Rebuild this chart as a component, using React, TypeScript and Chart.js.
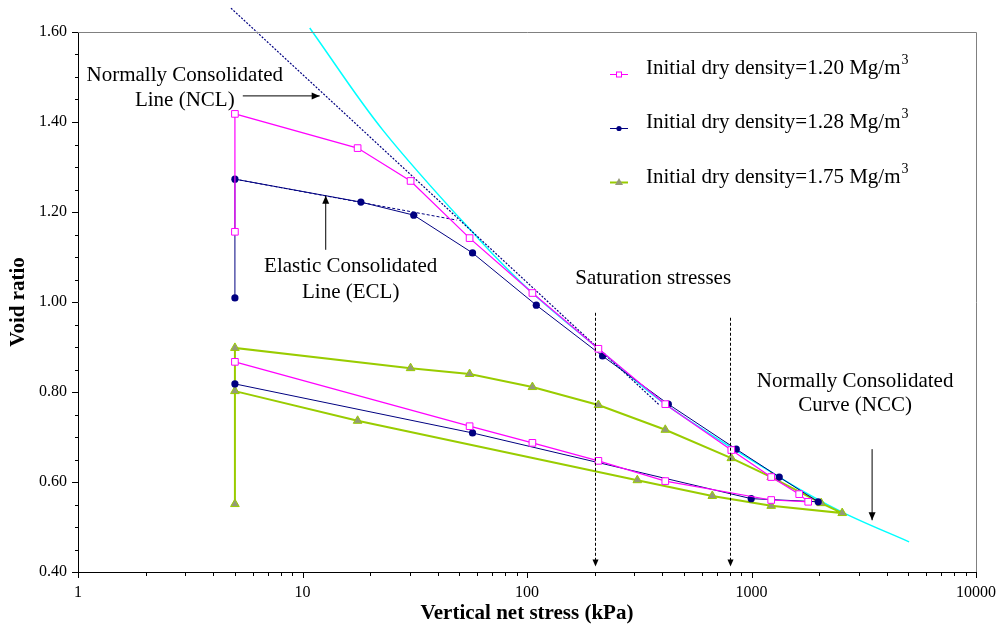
import React, { useEffect, useRef } from "react";
import { Chart, registerables } from "chart.js";

Chart.register(...registerables);

const FONT = "'Liberation Serif', 'Times New Roman', serif";

// ---- data ----
const pinkX = [5, 5, 17.6, 30.3, 55.5, 105.7, 208, 413, 813, 1224, 1631, 1789, 1224, 413, 208, 105.7, 55.5, 5];
const pinkY = [1.156, 1.418, 1.342, 1.269, 1.142, 1.02, 0.896, 0.773, 0.671, 0.611, 0.573, 0.556, 0.56, 0.602, 0.647, 0.687, 0.724, 0.867];

const blueX = [5, 5, 18.2, 31.3, 57.2, 110, 217, 426, 855, 1329, 1982, 997, 57.2, 5];
const blueY = [1.009, 1.273, 1.222, 1.193, 1.109, 0.993, 0.88, 0.773, 0.673, 0.611, 0.556, 0.563, 0.709, 0.818];

const greenX = [5, 5, 30.3, 55.5, 105.7, 208, 413, 813, 1224, 2043, 2535, 1224, 669, 310, 17.6, 5];
const greenY = [0.551, 0.898, 0.853, 0.84, 0.811, 0.771, 0.716, 0.653, 0.611, 0.553, 0.531, 0.547, 0.569, 0.604, 0.736, 0.802];

const nclX = [4.8, 389];
const nclY = [1.653, 0.771];

const eclX = [5, 48.6];
const eclY = [1.273, 1.182];

const nccX = [10.77, 22.8, 61.5, 105.7, 208, 413, 1329, 2535, 5035];
const nccY = [1.609, 1.382, 1.138, 1.02, 0.896, 0.773, 0.611, 0.533, 0.467];

const seriesLabels = [
  "Initial dry density=1.20 Mg/m",
  "Initial dry density=1.28 Mg/m",
  "Initial dry density=1.75 Mg/m",
];

const xMajorTicks = [1, 10, 100, 1000, 10000];
const yMajorTicks = [0.4, 0.6, 0.8, 1.0, 1.2, 1.4, 1.6];
const yMinorStep = 0.05;

// saturation stress markers: x value, top y, bottom y
const satX = [200, 800];
const satTopY = [0.976, 0.965];
const satBottomY = 0.412;

// annotations (data coordinates)
const notes = [
  { x: 2.99, y: 1.504, text: "Normally Consolidated" },
  { x: 2.99, y: 1.447, text: "Line (NCL)" },
  { x: 16.4, y: 1.078, text: "Elastic Consolidated" },
  { x: 16.4, y: 1.022, text: "Line (ECL)" },
  { x: 365, y: 1.053, text: "Saturation stresses" },
  { x: 2894, y: 0.824, text: "Normally Consolidated" },
  { x: 2894, y: 0.769, text: "Curve (NCC)" },
];
// arrows: from -> to (data coordinates)
const arrows = [
  { x1: 5.42, y1: 1.458, x2: 11.93, y2: 1.458 },
  { x1: 12.69, y1: 1.116, x2: 12.69, y2: 1.236 },
  { x1: 3445, y1: 0.673, x2: 3445, y2: 0.515 },
];

const PINK = "#FF00FF";
const NAVY = "#000080";
const GREEN = "#99CC00";
const TRI_FILL = "#949a78";
const CYAN = "#00FFFF";

function pts(xs: number[], ys: number[]) {
  return xs.map((x, i) => ({ x, y: ys[i] }));
}

function arrowHead(ctx: CanvasRenderingContext2D, x1: number, y1: number, x2: number, y2: number, len = 8, half = 3.5) {
  const a = Math.atan2(y2 - y1, x2 - x1);
  ctx.beginPath();
  ctx.moveTo(x2, y2);
  ctx.lineTo(x2 - len * Math.cos(a) + half * Math.sin(a), y2 - len * Math.sin(a) - half * Math.cos(a));
  ctx.lineTo(x2 - len * Math.cos(a) - half * Math.sin(a), y2 - len * Math.sin(a) + half * Math.cos(a));
  ctx.closePath();
  ctx.fill();
}

const overlayPlugin = {
  id: "overlay",
  afterDraw(chart: any) {
    const ctx: CanvasRenderingContext2D = chart.ctx;
    const { left, right, top, bottom } = chart.chartArea;
    const xs = chart.scales.x;
    const ys = chart.scales.y;
    ctx.save();

    // frame (top & right)
    ctx.strokeStyle = "#808080";
    ctx.lineWidth = 1;
    ctx.beginPath();
    ctx.moveTo(left, top + 0.5);
    ctx.lineTo(right + 0.5, top + 0.5);
    ctx.lineTo(right + 0.5, bottom);
    ctx.stroke();

    // ticks
    ctx.strokeStyle = "#000";
    ctx.beginPath();
    for (let d = 1; d < 10000; d *= 10) {
      for (let m = 1; m <= 10; m++) {
        const v = d * m;
        if (v > 10000) break;
        const px = Math.round(xs.getPixelForValue(v)) + 0.5;
        const len = m === 1 || m === 10 ? 6 : 4;
        ctx.moveTo(px, bottom);
        ctx.lineTo(px, bottom + len);
      }
    }
    const nY = Math.round((1.6 - 0.4) / yMinorStep);
    for (let i = 0; i <= nY; i++) {
      const v = 0.4 + i * yMinorStep;
      const py = Math.round(ys.getPixelForValue(v)) + 0.5;
      const major = i % 4 === 0;
      ctx.moveTo(left - (major ? 6 : 3), py);
      ctx.lineTo(left, py);
    }
    ctx.stroke();

    // saturation stress lines
    ctx.fillStyle = "#000";
    ctx.lineWidth = 1;
    satX.forEach((sx, i) => {
      const px = Math.round(xs.getPixelForValue(sx)) + 0.5;
      const y1 = ys.getPixelForValue(satTopY[i]);
      const y2 = ys.getPixelForValue(satBottomY);
      ctx.setLineDash([3, 2]);
      ctx.beginPath();
      ctx.moveTo(px, y1);
      ctx.lineTo(px, y2 - 5);
      ctx.stroke();
      ctx.setLineDash([]);
      arrowHead(ctx, px, y1, px, y2, 7, 3);
    });

    // annotation arrows
    ctx.strokeStyle = "#000";
    arrows.forEach((a) => {
      const x1 = xs.getPixelForValue(a.x1);
      const y1 = ys.getPixelForValue(a.y1);
      const x2 = xs.getPixelForValue(a.x2);
      const y2 = ys.getPixelForValue(a.y2);
      ctx.beginPath();
      ctx.moveTo(x1, y1);
      ctx.lineTo(x2, y2);
      ctx.stroke();
      arrowHead(ctx, x1, y1, x2, y2, 8, 3.5);
    });

    // annotation texts
    ctx.font = `21px ${FONT}`;
    ctx.fillStyle = "#000";
    ctx.textAlign = "center";
    ctx.textBaseline = "middle";
    notes.forEach((n) => {
      ctx.fillText(n.text, xs.getPixelForValue(n.x), ys.getPixelForValue(n.y));
    });

    // legend
    const lx0 = left + 532;
    const lx1 = left + 550;
    const tx = left + 568;
    const rowY = [68, 122, 177];
    const markerY = [74, 128, 182];
    const colors = [PINK, NAVY, GREEN];
    ctx.textAlign = "left";
    for (let i = 0; i < 3; i++) {
      const my = markerY[i];
      ctx.strokeStyle = colors[i];
      ctx.lineWidth = i === 2 ? 2 : 1;
      ctx.beginPath();
      ctx.moveTo(lx0, my + 0.5);
      ctx.lineTo(lx1, my + 0.5);
      ctx.stroke();
      const cx = (lx0 + lx1) / 2;
      ctx.lineWidth = 1;
      if (i === 0) {
        ctx.fillStyle = "#fff";
        ctx.fillRect(cx - 3, my - 2.5, 6, 6);
        ctx.strokeStyle = PINK;
        ctx.strokeRect(cx - 2.5, my - 2, 5, 5);
      } else if (i === 1) {
        ctx.fillStyle = NAVY;
        ctx.beginPath();
        ctx.arc(cx, my + 0.5, 2.6, 0, Math.PI * 2);
        ctx.fill();
      } else {
        ctx.fillStyle = TRI_FILL;
        ctx.beginPath();
        ctx.moveTo(cx, my - 4);
        ctx.lineTo(cx + 4, my + 3);
        ctx.lineTo(cx - 4, my + 3);
        ctx.closePath();
        ctx.fill();
      }
      ctx.fillStyle = "#000";
      ctx.font = `21px ${FONT}`;
      ctx.textBaseline = "middle";
      const label = chart.data.datasets[i].label as string;
      ctx.fillText(label, tx, rowY[i]);
      const w = ctx.measureText(label).width;
      ctx.font = `14px ${FONT}`;
      ctx.fillText("3", tx + w + 1, rowY[i] - 8);
    }

    ctx.restore();
  },
};

export default function App() {
  const ref = useRef<HTMLCanvasElement>(null);
  useEffect(() => {
    const canvas = ref.current;
    if (!canvas) return;
    const tickFont = { family: FONT, size: 16 };
    const titleFont = { family: FONT, size: 21, weight: "bold" as const };
    const chart = new Chart(canvas, {
      type: "line",
      data: {
        datasets: [
          {
            label: seriesLabels[0],
            data: pts(pinkX, pinkY),
            borderColor: PINK,
            borderWidth: 1.2,
            pointStyle: "rect",
            pointRadius: 4.7,
            pointBorderColor: PINK,
            pointBackgroundColor: "#FFFFFF",
            pointBorderWidth: 1,
            tension: 0,
          },
          {
            label: seriesLabels[1],
            data: pts(blueX, blueY),
            borderColor: NAVY,
            borderWidth: 1,
            pointStyle: "circle",
            pointRadius: 3.6,
            pointBorderColor: NAVY,
            pointBackgroundColor: NAVY,
            pointBorderWidth: 0,
            tension: 0,
          },
          {
            label: seriesLabels[2],
            data: pts(greenX, greenY),
            borderColor: GREEN,
            borderWidth: 2,
            pointStyle: "triangle",
            pointRadius: 5,
            pointBorderColor: GREEN,
            pointBackgroundColor: TRI_FILL,
            pointBorderWidth: 1,
            tension: 0,
          },
          {
            label: "NCL",
            data: pts(nclX, nclY),
            borderColor: NAVY,
            borderWidth: 1.2,
            borderDash: [2, 1.5],
            pointRadius: 0,
            clip: false as any,
          },
          {
            label: "ECL",
            data: pts(eclX, eclY),
            borderColor: NAVY,
            borderWidth: 1,
            borderDash: [3, 2],
            pointRadius: 0,
          },
          {
            label: "NCC",
            data: pts(nccX, nccY),
            borderColor: CYAN,
            borderWidth: 1.5,
            pointRadius: 0,
            tension: 0.35,
            clip: false as any,
          },
        ],
      },
      options: {
        responsive: false,
        animation: false,
        parsing: true,
        layout: { padding: { top: 32, right: 24, left: 0, bottom: 0 } },
        plugins: { legend: { display: false }, tooltip: { enabled: false } },
        scales: {
          x: {
            type: "logarithmic",
            min: 1,
            max: 10000,
            afterBuildTicks: (s: any) => {
              s.ticks = xMajorTicks.map((v) => ({ value: v }));
            },
            afterFit: (s: any) => {
              s.height = 54;
            },
            ticks: {
              font: tickFont,
              color: "#000",
              padding: 5,
              maxRotation: 0,
              autoSkip: false,
              callback: (v: any) => String(v),
            },
            grid: { display: true, drawOnChartArea: false, drawTicks: true, tickLength: 6, tickColor: "rgba(0,0,0,0)" },
            border: { display: true, color: "#000", width: 1 },
            title: { display: true, text: "Vertical net stress (kPa)", font: titleFont, color: "#000", padding: { top: 0, bottom: 0 } },
          },
          y: {
            type: "linear",
            min: 0.4,
            max: 1.6,
            afterBuildTicks: (s: any) => {
              s.ticks = yMajorTicks.map((v) => ({ value: v }));
            },
            afterFit: (s: any) => {
              s.width = 78;
            },
            ticks: {
              font: tickFont,
              color: "#000",
              padding: 5,
              callback: (v: any) => Number(v).toFixed(2),
            },
            grid: { display: true, drawOnChartArea: false, drawTicks: true, tickLength: 6, tickColor: "rgba(0,0,0,0)" },
            border: { display: true, color: "#000", width: 1 },
            title: { display: true, text: "Void ratio", font: titleFont, color: "#000", padding: { top: 6, bottom: 0 } },
          },
        },
      },
      plugins: [overlayPlugin],
    } as any);
    return () => chart.destroy();
  }, []);
  return (
    <div style={{ position: "fixed", left: 0, top: 0, width: 1001, height: 626, background: "#fff" }}>
      <canvas ref={ref} width={1001} height={626} style={{ display: "block" }} />
    </div>
  );
}
